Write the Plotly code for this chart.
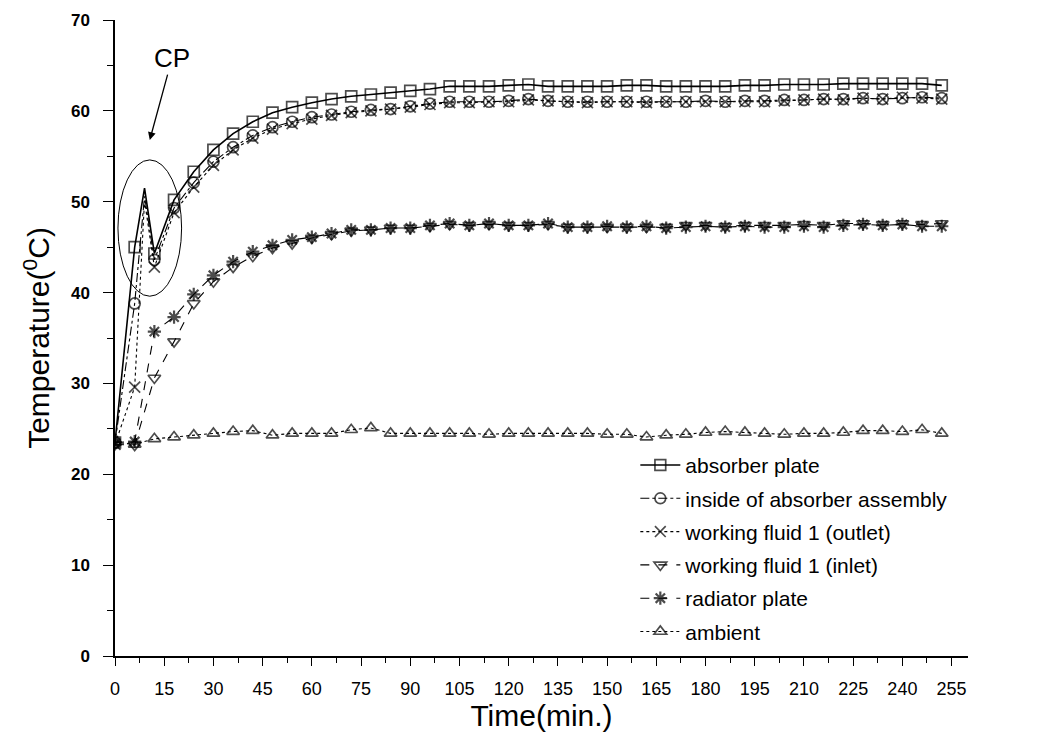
import plotly.graph_objects as go

# ---------------- data ----------------
time_min = list(range(0, 253, 6))  # 0, 6, ..., 252

absorber_plate = [23.5, 45.0, 44.3, 50.2, 53.3, 55.7, 57.5, 58.8, 59.8, 60.4,
                  60.9, 61.3, 61.6, 61.8, 62.0, 62.2, 62.4, 62.7, 62.7, 62.7,
                  62.8, 62.9, 62.7, 62.7, 62.7, 62.7, 62.8, 62.8, 62.7, 62.7,
                  62.7, 62.7, 62.8, 62.8, 62.9, 62.9, 62.9, 63.0, 63.0, 63.0,
                  63.0, 63.0, 62.8]
inside_absorber = [23.5, 38.8, 43.6, 49.3, 52.1, 54.4, 56.0, 57.3, 58.2, 58.8,
                   59.3, 59.6, 59.9, 60.1, 60.2, 60.5, 60.8, 61.0, 61.0, 61.0,
                   61.1, 61.3, 61.1, 61.0, 61.0, 61.0, 61.0, 61.0, 61.0, 61.0,
                   61.1, 61.0, 61.1, 61.1, 61.2, 61.2, 61.3, 61.3, 61.4, 61.3,
                   61.4, 61.5, 61.4]
fluid_outlet = [23.3, 29.6, 42.8, 48.8, 51.6, 54.0, 55.7, 57.0, 58.0, 58.6,
                59.1, 59.5, 59.8, 60.0, 60.2, 60.4, 60.7, 60.9, 60.9, 61.0,
                61.0, 61.2, 61.1, 61.0, 60.9, 61.0, 61.0, 60.9, 61.0, 61.0,
                61.0, 61.0, 61.0, 61.0, 61.1, 61.2, 61.3, 61.2, 61.4, 61.3,
                61.5, 61.4, 61.3]
fluid_inlet = [23.3, 23.2, 30.6, 34.6, 38.8, 41.2, 42.8, 44.0, 44.9, 45.4,
               46.0, 46.4, 46.8, 46.9, 47.1, 47.1, 47.3, 47.5, 47.4, 47.5,
               47.4, 47.4, 47.5, 47.2, 47.2, 47.2, 47.2, 47.2, 47.2, 47.4,
               47.4, 47.3, 47.4, 47.4, 47.4, 47.5, 47.4, 47.6, 47.6, 47.5,
               47.6, 47.5, 47.6]
radiator_plate = [23.5, 23.6, 35.7, 37.3, 39.8, 41.9, 43.4, 44.5, 45.2, 45.8,
                  46.1, 46.5, 46.9, 46.9, 47.1, 47.1, 47.4, 47.6, 47.4, 47.6,
                  47.4, 47.4, 47.6, 47.2, 47.2, 47.3, 47.2, 47.3, 47.1, 47.2,
                  47.3, 47.2, 47.3, 47.2, 47.2, 47.3, 47.2, 47.4, 47.5, 47.4,
                  47.5, 47.3, 47.3]
ambient = [23.5, 23.3, 23.9, 24.1, 24.3, 24.5, 24.7, 24.8, 24.3, 24.5,
           24.5, 24.5, 24.9, 25.1, 24.5, 24.5, 24.5, 24.5, 24.5, 24.4,
           24.5, 24.5, 24.5, 24.5, 24.5, 24.4, 24.4, 24.1, 24.3, 24.4,
           24.6, 24.7, 24.6, 24.5, 24.4, 24.5, 24.5, 24.6, 24.8, 24.8,
           24.7, 24.9, 24.5]

# critical point (CP) peak, recorded between the 6 and 12 min readings
cp_time = 9
cp_absorber = 51.5
cp_inside = 50.6
cp_outlet = 50.1

series_names = ["absorber plate", "inside of absorber assembly",
                "working fluid 1 (outlet)", "working fluid 1 (inlet)",
                "radiator plate", "ambient"]

x_ticks = list(range(0, 256, 15))
y_ticks = list(range(0, 71, 10))

# ---------------- figure ----------------
FONT = "Liberation Sans, Arial, sans-serif"
NARROW = "Liberation Sans Narrow, Liberation Sans, Arial, sans-serif"
MSIZE = 11


def with_cp(values, cp_val):
    xs = time_min[:2] + [cp_time] + time_min[2:]
    ys = values[:2] + [cp_val] + values[2:]
    sizes = [0 if i == 2 else MSIZE for i in range(len(xs))]
    return xs, ys, sizes


styles = [
    dict(dash="solid", width=1.6, symbol="square-open"),
    dict(dash="dashdot", width=1.1, symbol="circle-open"),
    dict(dash="dot", width=1.1, symbol="x-thin-open"),
    dict(dash="dash", width=1.1, symbol="triangle-down-open"),
    dict(dash="dash", width=1.1, symbol="asterisk-open"),
    dict(dash="dot", width=1.1, symbol="triangle-up-open"),
]

data_sets = [
    with_cp(absorber_plate, cp_absorber),
    with_cp(inside_absorber, cp_inside),
    with_cp(fluid_outlet, cp_outlet),
    (time_min, fluid_inlet, [MSIZE] * len(time_min)),
    (time_min, radiator_plate, [MSIZE] * len(time_min)),
    (time_min, ambient, [MSIZE] * len(time_min)),
]

fig = go.Figure()
for k, (name, st, (xs, ys, sizes)) in enumerate(zip(series_names, styles, data_sets)):
    mlw = 2.2 if "asterisk" in st["symbol"] else 1.7
    fig.add_trace(go.Scatter(
        x=xs, y=ys, name=name, mode="lines+markers", legendgroup=f"g{k}",
        line=dict(color="black", width=st["width"], dash=st["dash"]),
        marker=dict(symbol=st["symbol"], size=sizes, color="black",
                    line=dict(color="black", width=mlw)),
    ))

# CP highlight (ellipse + label with arrow)
fig.add_shape(type="circle", xref="x", yref="y",
              x0=0.9, x1=20.3, y0=39.6, y1=54.6,
              line=dict(color="black", width=1))
fig.add_annotation(x=10.6, y=56.8, xref="x", yref="y", ax=17.4, ay=65.8,
                   axref="x", ayref="y", text="CP", showarrow=True,
                   arrowhead=2, arrowsize=1.2, arrowwidth=1.3, arrowcolor="black",
                   font=dict(family=FONT, size=26, color="black"))

fig.update_layout(
    width=1038, height=744,
    margin=dict(l=115, r=70, t=20, b=88),
    paper_bgcolor="white", plot_bgcolor="white",
    font=dict(family=FONT, color="black"),
    showlegend=True,
    legend=dict(x=0.61, y=0.332, xanchor="left", yanchor="top",
                bgcolor="rgba(0,0,0,0)", borderwidth=0,
                font=dict(family=FONT, size=21, color="black"),
                itemwidth=40, tracegroupgap=3),
)
fig.update_xaxes(
    range=[0, 260], tickmode="array", tickvals=x_ticks,
    ticktext=[str(v) for v in x_ticks],
    showgrid=False, zeroline=False, showline=True, linecolor="black", linewidth=1.5,
    ticks="outside", ticklen=8, tickwidth=1.3, tickcolor="black",
    ticklabelstandoff=8,
    minor=dict(dtick=7.5, tick0=0, ticks="outside", ticklen=5, tickwidth=1.2,
               tickcolor="black", showgrid=False),
    tickfont=dict(family=NARROW, size=18, color="black"),
    title=dict(text="Time(min.)", font=dict(family=NARROW, size=30, color="black"),
               standoff=6),
)
fig.update_yaxes(
    range=[0, 70], tickmode="array", tickvals=y_ticks,
    ticktext=[f"<b>{v}</b>" for v in y_ticks],
    showgrid=False, zeroline=False, showline=True, linecolor="black", linewidth=1.5,
    ticks="outside", ticklen=10, tickwidth=1.3, tickcolor="black",
    ticklabelstandoff=10,
    minor=dict(dtick=5, tick0=0, ticks="outside", ticklen=6, tickwidth=1.2,
               tickcolor="black", showgrid=False),
    tickfont=dict(family=FONT, size=17, color="black"),
    title=dict(text="Temperature(<sup>0</sup>C)",
               font=dict(family=NARROW, size=30, color="black"), standoff=12),
)

fig.write_html("out.html")
